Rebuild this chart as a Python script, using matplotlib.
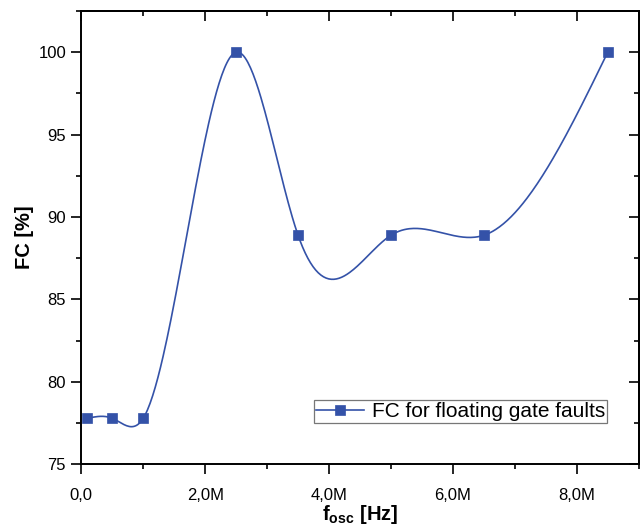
import matplotlib
matplotlib.use('Agg')
import matplotlib.pyplot as plt
from matplotlib.ticker import FuncFormatter, MultipleLocator, NullFormatter
import numpy as np

plt.rcParams['font.family'] = 'Liberation Sans'
plt.rcParams['mathtext.fontset'] = 'custom'
plt.rcParams['mathtext.rm'] = 'Liberation Sans'
plt.rcParams['mathtext.bf'] = 'Liberation Sans:bold'

# Fault coverage vs oscillator frequency
freq_hz = [0.1e6, 0.5e6, 1.0e6, 2.5e6, 3.5e6, 5.0e6, 6.5e6, 8.5e6]
fc_pct = [77.78, 77.78, 77.78, 100.0, 88.89, 88.89, 88.89, 100.0]

COLOR = '#3452a8'


def natural_spline(x, y, n=400):
    """Natural cubic spline through (x, y), evaluated on n points."""
    x = np.asarray(x, float); y = np.asarray(y, float)
    k = len(x)
    h = np.diff(x)
    A = np.zeros((k, k)); r = np.zeros(k)
    A[0, 0] = A[-1, -1] = 1.0
    for i in range(1, k - 1):
        A[i, i - 1] = h[i - 1]
        A[i, i] = 2 * (h[i - 1] + h[i])
        A[i, i + 1] = h[i]
        r[i] = 6 * ((y[i + 1] - y[i]) / h[i] - (y[i] - y[i - 1]) / h[i - 1])
    m = np.linalg.solve(A, r)
    xs = np.linspace(x[0], x[-1], n)
    idx = np.clip(np.searchsorted(x, xs) - 1, 0, k - 2)
    x0, x1 = x[idx], x[idx + 1]
    hh = x1 - x0
    a = (x1 - xs) / hh; b = (xs - x0) / hh
    ys = (a * y[idx] + b * y[idx + 1]
          + ((a ** 3 - a) * m[idx] + (b ** 3 - b) * m[idx + 1]) * hh ** 2 / 6)
    return xs, ys


fig = plt.figure(figsize=(6.4, 5.25), dpi=100)
ax = fig.add_axes([0.127, 0.116, 0.871, 0.863])

xs, ys = natural_spline(freq_hz, fc_pct)
ax.plot(xs, ys, color=COLOR, linewidth=1.2)
ax.plot(freq_hz, fc_pct, linestyle='none', marker='s', markersize=7,
        color=COLOR, markeredgecolor=COLOR, markeredgewidth=0.5)
# proxy for legend entry
ax.plot([], [], color=COLOR, linewidth=1.2, marker='s', markersize=7,
        markeredgewidth=0.5, label='FC for floating gate faults')

ax.set_xlim(0, 9e6)
ax.set_ylim(75, 102.5)
ax.xaxis.set_major_locator(MultipleLocator(2e6))
ax.xaxis.set_minor_locator(MultipleLocator(1e6))
ax.yaxis.set_major_locator(MultipleLocator(5))
ax.yaxis.set_minor_locator(MultipleLocator(2.5))


def fmt_hz(v, pos):
    if v == 0:
        return '0,0'
    return f'{v / 1e6:.1f}M'.replace('.', ',')


ax.xaxis.set_major_formatter(FuncFormatter(fmt_hz))
ax.tick_params(which='both', direction='out', width=1.2, labelsize=12,
               top=False, right=False)
ax.tick_params(which='major', length=7)
ax.tick_params(which='minor', length=3.5)
ax.tick_params(axis='x', which='major', pad=10.5)
ax.tick_params(axis='y', which='major', pad=4)

# mirrored inward ticks on top and right
top = ax.secondary_xaxis('top')
top.xaxis.set_major_locator(MultipleLocator(2e6))
top.xaxis.set_minor_locator(MultipleLocator(1e6))
top.xaxis.set_major_formatter(NullFormatter())
top.tick_params(which='both', direction='in', width=1.2)
top.tick_params(which='major', length=7)
top.tick_params(which='minor', length=3.5)
right = ax.secondary_yaxis('right')
right.yaxis.set_major_locator(MultipleLocator(5))
right.yaxis.set_minor_locator(MultipleLocator(2.5))
right.yaxis.set_major_formatter(NullFormatter())
right.tick_params(which='both', direction='in', width=1.2)
right.tick_params(which='major', length=7)
right.tick_params(which='minor', length=3.5)
for sec in (top, right):
    for s in sec.spines.values():
        s.set_linewidth(1.4)

for s in ax.spines.values():
    s.set_linewidth(1.4)

ax.set_xlabel(r'f$_\mathbf{osc}$ [Hz]', fontsize=14.5, fontweight='bold',
              labelpad=0)
ax.set_ylabel('FC [%]', fontsize=14.5, fontweight='bold', labelpad=3)

leg = ax.legend(loc='lower right', bbox_to_anchor=(0.943, 0.09), fontsize=15,
                frameon=True, fancybox=False, borderpad=0.1,
                handlelength=2.3, handletextpad=0.35, borderaxespad=0)
leg.get_frame().set_edgecolor('#555555')
leg.get_frame().set_linewidth(0.9)

fig.savefig('out.png', dpi=100)
